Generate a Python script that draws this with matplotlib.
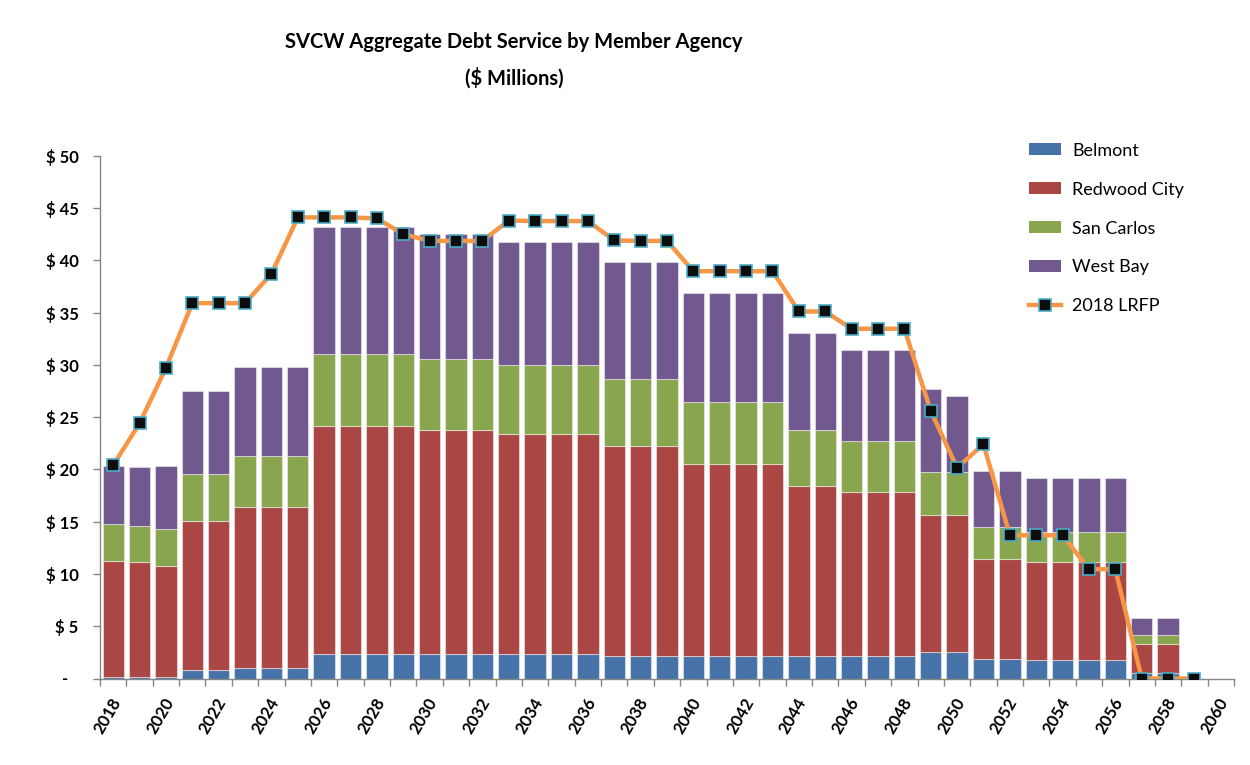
import matplotlib
matplotlib.use('Agg')
import matplotlib.pyplot as plt
import matplotlib.transforms as mtransforms
from matplotlib.lines import Line2D
from matplotlib.patches import Patch
import numpy as np

plt.rcParams['font.family'] = ['Lato', 'DejaVu Sans']

# ---------------- data ($ millions) ----------------
years = list(range(2018, 2061))
belmont = [0.15, 0.15, 0.15, 0.80, 0.80, 1.05, 1.05, 1.05,
           2.34, 2.34, 2.34, 2.34, 2.34, 2.34, 2.34, 2.34, 2.34, 2.34, 2.34,
           2.18, 2.18, 2.18, 2.18, 2.18, 2.18, 2.18, 2.18, 2.18, 2.18, 2.18, 2.18,
           2.56, 2.56, 1.86, 1.86, 1.80, 1.80, 1.80, 1.80, 0.55, 0.55, 0.0, 0.0]
redwood_city = [11.09, 10.95, 10.65, 14.24, 14.24, 15.38, 15.38, 15.38,
                21.83, 21.83, 21.83, 21.83, 21.45, 21.45, 21.45, 21.03, 21.03, 21.03, 21.03,
                20.08, 20.08, 20.08, 18.34, 18.34, 18.34, 18.34, 16.25, 16.25, 15.65, 15.65, 15.65,
                13.10, 13.10, 9.59, 9.59, 9.30, 9.30, 9.30, 9.30, 2.78, 2.78, 0.0, 0.0]
san_carlos = [3.51, 3.50, 3.50, 4.51, 4.51, 4.84, 4.84, 4.84,
              6.88, 6.88, 6.88, 6.88, 6.78, 6.78, 6.78, 6.66, 6.66, 6.66, 6.66,
              6.34, 6.34, 6.34, 5.91, 5.91, 5.91, 5.91, 5.31, 5.31, 4.89, 4.89, 4.89,
              4.10, 4.10, 3.07, 3.07, 2.87, 2.87, 2.87, 2.87, 0.86, 0.86, 0.0, 0.0]
west_bay = [5.59, 5.60, 6.00, 7.90, 7.90, 8.53, 8.53, 8.53,
            12.11, 12.11, 12.11, 12.11, 11.93, 11.93, 11.93, 11.73, 11.73, 11.73, 11.73,
            11.25, 11.25, 11.25, 10.45, 10.45, 10.45, 10.45, 9.26, 9.26, 8.66, 8.66, 8.66,
            7.96, 7.28, 5.35, 5.35, 5.20, 5.20, 5.20, 5.20, 1.56, 1.56, 0.0, 0.0]
lrfp_2018 = [20.4, 24.4, 29.7, 35.9, 35.9, 35.9, 38.7, 44.1,
             44.1, 44.1, 44.0, 42.5, 41.85, 41.85, 41.85, 43.8, 43.75, 43.75, 43.75,
             41.9, 41.85, 41.85, 38.95, 38.95, 38.95, 38.95, 35.1, 35.1, 33.45, 33.45, 33.45,
             25.6, 20.15, 22.4, 13.7, 13.7, 13.7, 10.45, 10.45, 0.0, 0.0, 0.0]
series_names = ['Belmont', 'Redwood City', 'San Carlos', 'West Bay']
line_name = '2018 LRFP'
y_ticks = list(range(0, 51, 5))
y_tick_labels = ['', '$ 5', '$ 10', '$ 15', '$ 20', '$ 25', '$ 30', '$ 35', '$ 40', '$ 45', '$ 50']

colors = ['#4672A8', '#AA4643', '#89A54E', '#71588F']
line_color = '#F79646'

# ---------------- figure ----------------
W, H = 1250, 765
fig = plt.figure(figsize=(W / 100, H / 100), dpi=100)
ax_l, ax_r, ax_t, ax_b = 100, 1234, 155.7, 678.5
ax = fig.add_axes([ax_l / W, 1 - ax_b / H, (ax_r - ax_l) / W, (ax_b - ax_t) / H])

x = np.arange(len(years))
bottom = np.zeros(len(years))
for vals, col, name in zip([belmont, redwood_city, san_carlos, west_bay], colors, series_names):
    v = np.array(vals)
    ax.bar(x, v, width=0.81, bottom=bottom, color=col, edgecolor=(1, 1, 1, 0.45),
           linewidth=0.8, label=name, zorder=2)
    bottom += v

ax.plot(x[:len(lrfp_2018)], lrfp_2018, color=line_color, lw=3.2, marker='s', ms=9,
        mfc='#0D0D0D', mec='#4BACC6', mew=1.2, zorder=3, label=line_name)

ax.set_xlim(-0.5, len(years) - 0.5)
ax.set_ylim(0, 50)

for s in ['top', 'right']:
    ax.spines[s].set_visible(False)
for s in ['left', 'bottom']:
    ax.spines[s].set_color('#868686')
    ax.spines[s].set_linewidth(1.0)

# y axis
ax.set_yticks(y_ticks)
ax.set_yticklabels(y_tick_labels, fontsize=12, fontweight='bold')
ax.tick_params(axis='y', direction='out', length=5, width=1, color='#868686', pad=10.5)
ax.text(-34.5 / (ax_r - ax_l), 0, '-', transform=ax.get_yaxis_transform(),
        ha='center', va='center', fontsize=12, fontweight='bold')

# x axis: tick marks at category boundaries, labels on even categories
ax.set_xticks(np.arange(-0.5, len(years), 1.0))
ax.set_xticklabels([])
ax.tick_params(axis='x', which='major', direction='out', length=5, width=1, color='#868686')
lab_pos = x[::2]
ax.set_xticks(lab_pos, minor=True)
ax.set_xticklabels([str(years[i]) for i in lab_pos], minor=True, rotation=60,
                   ha='right', va='top', rotation_mode='anchor', fontsize=12, fontweight='bold')
ax.tick_params(axis='x', which='minor', length=0, pad=12)
offset = mtransforms.ScaledTranslation(-3 / 100, 0, fig.dpi_scale_trans)
for lab in ax.get_xticklabels(minor=True):
    lab.set_transform(lab.get_transform() + offset)

# title
fig.text(514 / W, 1 - 42 / H, 'SVCW Aggregate Debt Service by Member Agency',
         ha='center', va='center', fontsize=14.5, fontweight='bold')
fig.text(514 / W, 1 - 78 / H, '($ Millions)', ha='center', va='center',
         fontsize=14.5, fontweight='bold')

# legend
handles = [Patch(facecolor=c, edgecolor='none') for c in colors]
handles.append(Line2D([], [], color=line_color, lw=3.2, marker='s', ms=9,
                      mfc='#0D0D0D', mec='#4BACC6', mew=1.2))
leg = ax.legend(handles, series_names + [line_name], loc='upper left',
                bbox_to_anchor=(1016 / W, 1 - 130 / H), bbox_transform=fig.transFigure,
                frameon=False, fontsize=13, handlelength=1.8, handleheight=0.62,
                handletextpad=0.6, labelspacing=1.27, borderpad=0.2)

fig.savefig('out.png', dpi=100)
